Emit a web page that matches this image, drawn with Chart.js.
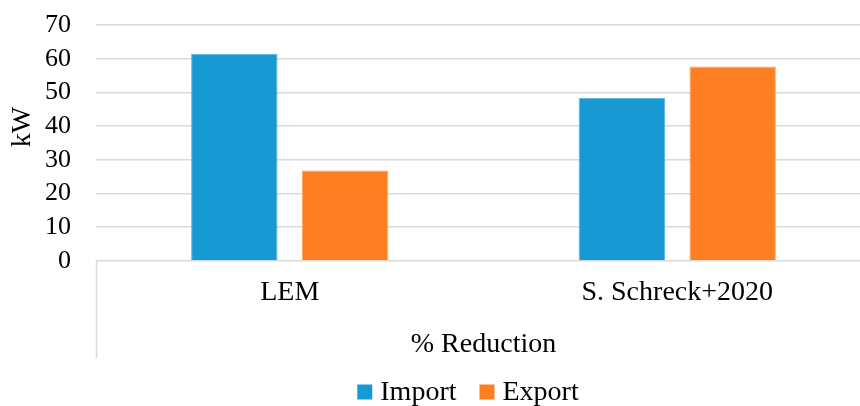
<!DOCTYPE html>
<html>
<head>
<meta charset="utf-8">
<script src="https://cdn.jsdelivr.net/npm/chart.js@4"></script>
<style>
  html, body { margin: 0; padding: 0; background: #fff; overflow: hidden; }
  #wrap { width: 880px; height: 406px; }
</style>
</head>
<body>
<div id="wrap"><canvas id="chart"></canvas></div>
<script>
// Chart data
const categories = ['LEM', 'S. Schreck+2020'];
const importValues = [61.5, 48.4];
const exportValues = [26.8, 57.7];
const groupLabel = '% Reduction';
const yTitle = 'kW';
const yTicks = [0, 10, 20, 30, 40, 50, 60, 70];

const FONT = "'Liberation Serif', 'Times New Roman', serif";
const GRID = '#d9d9d9';

// Left box line of the two-level category axis, y title and legend
const extras = {
  id: 'extras',
  afterDraw(chart) {
    const { ctx, chartArea } = chart;
    ctx.save();
    ctx.strokeStyle = GRID;
    ctx.lineWidth = 1.5;
    ctx.beginPath();
    ctx.moveTo(chartArea.left + 0.5, chartArea.bottom);
    ctx.lineTo(chartArea.left + 0.5, 358);
    ctx.stroke();

    // rotated axis title
    ctx.fillStyle = '#000';
    ctx.font = '28px ' + FONT;
    ctx.textAlign = 'center';
    ctx.textBaseline = 'middle';
    ctx.translate(23, 127);
    ctx.rotate(-Math.PI / 2);
    ctx.fillText(yTitle, 0, 0);
    ctx.restore();

    // legend
    ctx.save();
    ctx.font = '28px ' + FONT;
    ctx.textBaseline = 'middle';
    ctx.textAlign = 'left';
    const box = 15, gap = 8, itemGap = 23;
    const sets = chart.data.datasets;
    let total = 0;
    sets.forEach((ds, i) => {
      total += box + gap + ctx.measureText(ds.label).width + (i < sets.length - 1 ? itemGap : 0);
    });
    let x = 468 - total / 2;
    const cy = 392;
    sets.forEach(ds => {
      ctx.fillStyle = ds.backgroundColor;
      ctx.fillRect(x, cy - box / 2, box, box);
      x += box + gap;
      ctx.fillStyle = '#000';
      ctx.fillText(ds.label, x, cy + 1);
      x += ctx.measureText(ds.label).width + itemGap;
    });
    ctx.restore();
  }
};

new Chart(document.getElementById('chart'), {
  type: 'bar',
  data: {
    labels: categories,
    datasets: [
      {
        label: 'Import',
        data: importValues,
        backgroundColor: '#1799d3',
        borderColor: '#5bb6e2',
        borderWidth: 1,
        barPercentage: 0.78,
        categoryPercentage: 0.572
      },
      {
        label: 'Export',
        data: exportValues,
        backgroundColor: '#fe7f22',
        borderColor: '#ffa565',
        borderWidth: 1,
        barPercentage: 0.78,
        categoryPercentage: 0.572
      }
    ]
  },
  options: {
    responsive: true,
    maintainAspectRatio: false,
    animation: false,
    layout: { padding: { top: 25, right: 9, left: 0, bottom: 45 } },
    plugins: {
      tooltip: { enabled: false },
      legend: { display: false }
    },
    scales: {
      x: {
        grid: { display: false },
        border: { display: false },
        ticks: {
          font: { family: FONT, size: 28 },
          color: '#000',
          padding: 7
        },
        title: {
          display: true,
          text: groupLabel,
          font: { family: FONT, size: 28 },
          color: '#000',
          padding: { top: 11, bottom: 0 }
        }
      },
      y: {
        min: 0,
        max: 70,
        afterBuildTicks(scale) {
          scale.ticks = yTicks.map(v => ({ value: v }));
        },
        afterFit(scale) {
          scale.width = 96;
          scale.paddingTop = 0;
          scale.paddingBottom = 0;
        },
        grid: { color: GRID, lineWidth: 1.5, drawTicks: false },
        border: { display: false },
        ticks: {
          autoSkip: false,
          font: { family: FONT, size: 26 },
          color: '#000',
          padding: 25
        },
        title: { display: false }
      }
    }
  },
  plugins: [extras]
});
</script>
</body>
</html>
